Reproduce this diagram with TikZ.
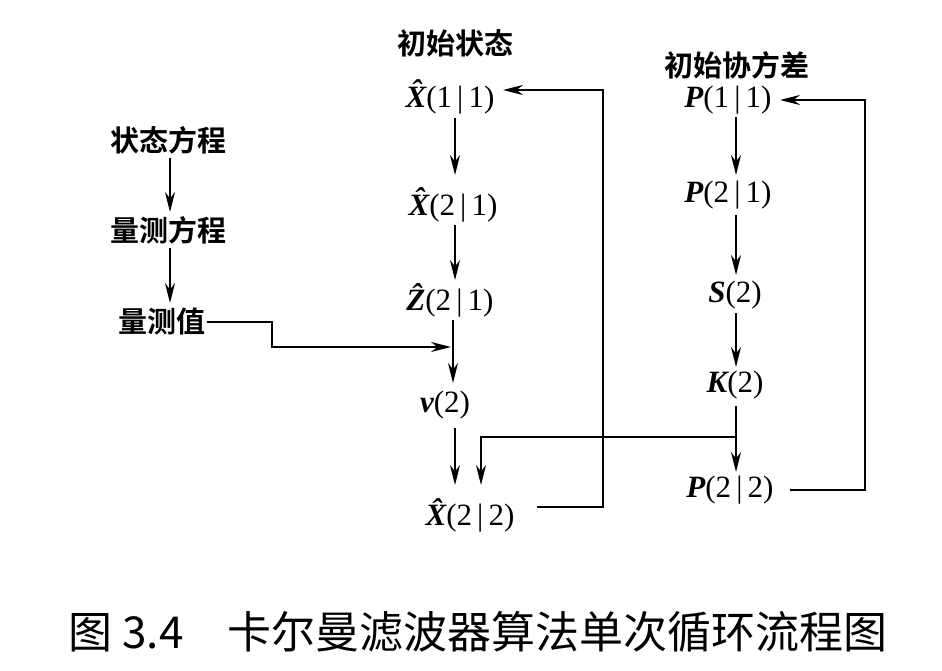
\documentclass[tikz,border=0pt]{standalone}
\usepackage{fontspec}
\setmainfont{Liberation Serif}
\newfontfamily\cjk{Noto Sans CJK SC}[BoldFont={Noto Sans CJK SC Bold}]
\usetikzlibrary{arrows.meta}
\newcommand{\bv}[1]{{\bfseries\itshape #1}}
\newcommand{\hv}[1]{{\bfseries\itshape\^{#1}}}
\newcommand{\br}{\,|\,}
\begin{document}
\begin{tikzpicture}[x=1pt,y=-1pt,
  lab/.style={inner sep=1pt,font=\fontsize{31}{34}\selectfont},
  cn/.style={inner sep=1pt,font=\cjk\bfseries\fontsize{29}{32}\selectfont},
  ar/.style={line width=2pt,-{Stealth[length=20pt,width=10pt]}},
  ln/.style={line width=2pt}]
\useasboundingbox (0,0) rectangle (942,671);
\node[cn] (t1) at (455,43) {初始状态};
\node[lab] (x11) at (450,97) {\hv{X}(1\br1)};
\node[lab] (x21) at (453,205) {\hv{X}(2\br1)};
\node[lab] (z21) at (450,300) {\hv{Z}(2\br1)};
\node[lab] (v2) at (445,405) {\bv{v}(2)};
\node[lab] (x22) at (470,515) {\hv{X}(2\br2)};
\node[cn] (t2) at (737,65) {初始协方差};
\node[lab] (p11) at (728,100) {\bv{P}(1\br1)};
\node[lab] (p21) at (728,195) {\bv{P}(2\br1)};
\node[lab] (s2) at (735,295) {\bv{S}(2)};
\node[lab] (k2) at (735,385) {\bv{K}(2)};
\node[lab] (p22) at (730,490) {\bv{P}(2\br2)};
\node[cn] (a1) at (168,140) {状态方程};
\node[cn] (a2) at (168,230) {量测方程};
\node[cn] (a3) at (162,322) {量测值};
\node[font=\cjk\fontsize{44}{50}\selectfont] (cap) at (478,632) {图 3.4\quad 卡尔曼滤波器算法单次循环流程图};
\draw[ar] (170,158) -- (170,212);
\draw[ar] (170,248) -- (170,303);
\draw[ar] (455,118) -- (455,175);
\draw[ar] (455,225) -- (455,280);
\draw[ar] (453,320) -- (453,383);
\draw[ar] (455,428) -- (455,485);
\coordinate (m1) at (272,322);
\coordinate (m2) at (272,347);
\draw[ar] (a3.east) -- (m1) -- (m2) -- (451,347);
\draw[ar] (736,117) -- (736,175);
\draw[ar] (736,215) -- (736,275);
\draw[ar] (736,313) -- (736,367);
\draw[ar] (736,406) -- (736,472);
\draw[ar] (736,437) -- (481,437) -- (481,485);
\draw[ar] (537,507) -- (603,507) -- (603,90) -- (503,90);
\draw[ar] (790,490) -- (865,490) -- (865,100) -- (780,100);
\end{tikzpicture}
\end{document}
